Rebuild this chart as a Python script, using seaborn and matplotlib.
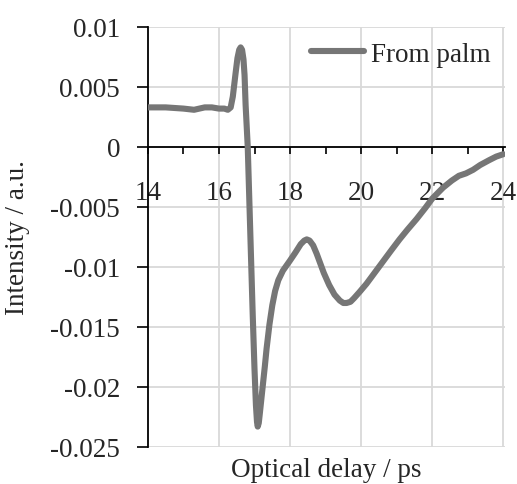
import numpy as np
import pandas as pd
import seaborn as sns
import matplotlib.pyplot as plt
from matplotlib.ticker import MultipleLocator, FixedLocator

# Terahertz time-domain waveform
delay_ps = [14.0, 14.5, 15.0, 15.3, 15.6, 15.8, 16.0, 16.15, 16.25, 16.33, 16.39, 16.47,
            16.52, 16.57, 16.61, 16.65, 16.69, 16.72, 16.75, 16.81, 16.88, 16.95, 17.0,
            17.04, 17.07, 17.09, 17.12, 17.15, 17.2, 17.29, 17.34, 17.42, 17.5, 17.58,
            17.67, 17.8, 17.99, 18.15, 18.3, 18.4, 18.47, 18.55, 18.65, 18.75, 18.85,
            18.95, 19.1, 19.25, 19.4, 19.5, 19.59, 19.7, 19.8, 19.95, 20.15, 20.35,
            20.6, 20.85, 21.08, 21.3, 21.56, 21.8, 22.0, 22.3, 22.55, 22.75, 22.95,
            23.15, 23.35, 23.6, 23.8, 24.0]
intensity = [0.0033, 0.0033, 0.0032, 0.0031, 0.0033, 0.0033, 0.0032, 0.0032, 0.0031,
             0.0033, 0.0042, 0.0062, 0.0074, 0.0081, 0.0083, 0.0081, 0.0073, 0.0060,
             0.0035, 0.0, -0.007, -0.014, -0.0185, -0.0215, -0.0229, -0.0233, -0.0230,
             -0.0222, -0.0208, -0.0183, -0.0168, -0.0148, -0.0132, -0.0120, -0.0111,
             -0.0103, -0.0095, -0.0088, -0.0081, -0.0078, -0.0077, -0.0078, -0.0082,
             -0.0089, -0.0097, -0.0105, -0.0115, -0.0123, -0.0128, -0.0130, -0.0130,
             -0.0129, -0.0126, -0.0121, -0.0114, -0.0106, -0.0096, -0.0086, -0.0077,
             -0.0069, -0.0060, -0.0051, -0.0043, -0.0034, -0.0028, -0.0024, -0.0022,
             -0.0019, -0.0015, -0.0011, -0.0008, -0.0006]
series_name = "From palm"

x_ticks = [14, 16, 18, 20, 22, 24]
y_ticks = [-0.025, -0.02, -0.015, -0.01, -0.005, 0, 0.005, 0.01]
y_tick_labels = ["-0.025", "-0.02", "-0.015", "-0.01", "-0.005", "0", "0.005", "0.01"]

df = pd.DataFrame({"delay": delay_ps, "intensity": intensity, "series": series_name})

sns.set_style("white")
plt.rcParams["font.family"] = ["Liberation Serif", "DejaVu Serif"]
FS = 19.5

fig = plt.figure(figsize=(5.17, 4.85), dpi=100)
ax = fig.add_axes([0.286, 0.0763, 0.691, 0.866])

sns.lineplot(data=df, x="delay", y="intensity", hue="series", palette=["#767676"],
             sort=False, linewidth=4.4, ax=ax, zorder=3)

ax.set_xlim(14, 24.05)
ax.set_ylim(-0.025, 0.01)

# gridlines
for xv in x_ticks[1:]:
    ax.axvline(xv, color="#d9d9d9", lw=1.3, zorder=0)
for yv in y_ticks:
    ax.axhline(yv, color="#d9d9d9", lw=1.3, zorder=0)

# axes: vertical spine on the left, horizontal axis through zero
for s in ["top", "right"]:
    ax.spines[s].set_visible(False)
ax.spines["bottom"].set_position(("data", 0))
ax.spines["bottom"].set_color("black")
ax.spines["bottom"].set_linewidth(1.3)
ax.spines["bottom"].set_zorder(2)
ax.spines["left"].set_color("black")
ax.spines["left"].set_linewidth(1.3)

ax.xaxis.set_major_locator(FixedLocator(x_ticks))
ax.xaxis.set_minor_locator(MultipleLocator(1))
ax.set_xticklabels([str(v) for v in x_ticks])
ax.yaxis.set_major_locator(FixedLocator(y_ticks))
ax.set_yticklabels(y_tick_labels)

ax.tick_params(axis="x", which="both", bottom=True, direction="out", length=5,
               width=1.2, color="black", pad=19, labelsize=FS)
ax.tick_params(axis="y", which="major", left=True, direction="out", length=8,
               width=1.2, color="black", pad=12, labelsize=FS)

ax.set_xlabel("Optical delay / ps", fontsize=FS)
ax.set_ylabel("Intensity / a.u.", fontsize=FS)
ax.xaxis.set_label_coords(0.5, -0.025)
ax.yaxis.set_label_coords(-0.33, 0.5)

leg = ax.legend(loc="upper right", frameon=False, fontsize=FS, handlelength=1.95,
                borderaxespad=0.15, handletextpad=0.25)
for h in leg.get_lines():
    h.set_linewidth(4.4)

fig.savefig("out.png", dpi=100)
